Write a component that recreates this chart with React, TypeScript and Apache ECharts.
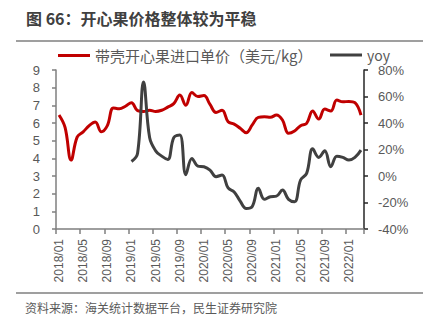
import React, { useEffect, useRef } from 'react';
import * as echarts from 'echarts';

const categories: string[] = [
  '2018/01', '2018/02', '2018/03', '2018/04', '2018/05', '2018/06', '2018/07', '2018/08', '2018/09', '2018/10', '2018/11', '2018/12',
  '2019/01', '2019/02', '2019/03', '2019/04', '2019/05', '2019/06', '2019/07', '2019/08', '2019/09', '2019/10', '2019/11', '2019/12',
  '2020/01', '2020/02', '2020/03', '2020/04', '2020/05', '2020/06', '2020/07', '2020/08', '2020/09', '2020/10', '2020/11', '2020/12',
  '2021/01', '2021/02', '2021/03', '2021/04', '2021/05', '2021/06', '2021/07', '2021/08', '2021/09', '2021/10', '2021/11', '2021/12',
  '2022/01', '2022/02', '2022/03',
];

// 带壳开心果进口单价（美元/kg）
const priceValues: number[] = [
  6.45, 5.75, 3.9, 5.2, 5.5, 5.85, 6.05, 5.5, 5.85, 6.85,
  6.8, 6.95, 7.15, 6.7, 6.65, 6.72, 6.65, 6.72, 6.9, 7.1,
  7.58, 7.0, 7.72, 7.5, 7.55, 7.05, 6.6, 6.72, 6.07, 5.94,
  5.7, 5.45, 5.89, 6.32, 6.35, 6.32, 6.45, 6.17, 5.42, 5.55,
  5.85, 5.98, 6.68, 6.22, 6.79, 6.68, 7.3, 7.2, 7.22, 7.15, 6.45,
];

// yoy (%)
const yoyValues: (number | null)[] = [
  null, null, null, null, null, null, null, null, null, null, null, null,
  11, 17, 71, 29, 19, 15, 12.5, 29, 31, 1,
  13.3, 7.5, 7, 4.5, -0.5, 0.7, -9, -12, -19, -24.5,
  -23, -9.3, -17.6, -15.6, -15.2, -10.6, -17.6, -19.4, -3, 2,
  20.5, 14, 19, 7, 15, 14, 12, 14, 19.5,
];

const leftTicks = { min: 0, max: 9, interval: 1 };
const rightTicks = { min: -40, max: 80, interval: 20 };

const seriesNames = ['带壳开心果进口单价（美元/kg）', 'yoy'];
const titleText = '图 66：开心果价格整体较为平稳';
const sourceText = '资料来源：海关统计数据平台，民生证券研究院';

export default function App() {
  const ref = useRef<HTMLDivElement>(null);
  useEffect(() => {
    if (!ref.current) return;
    const chart = echarts.init(ref.current, null, { renderer: 'svg' });
    const labelColor = '#595959';
    const numFont = '"Liberation Sans", Arial, sans-serif';
    const cjkFont = '"Noto Sans CJK SC", "Noto Sans", sans-serif';
    chart.setOption({
      animation: false,
      backgroundColor: '#ffffff',
      grid: { left: 56, right: 66, top: 70, bottom: 93, containLabel: false },
      legend: [
        {
          left: 58,
          top: 48,
          padding: 0,
          icon: 'rect',
          itemWidth: 32,
          itemHeight: 3,
          data: [seriesNames[0]],
          textStyle: { fontSize: 15, color: labelColor, fontFamily: cjkFont },
        },
        {
          left: 330,
          top: 48,
          padding: 0,
          icon: 'rect',
          itemWidth: 32,
          itemHeight: 3,
          data: [seriesNames[1]],
          textStyle: { fontSize: 14, color: labelColor, fontFamily: cjkFont },
        },
      ],
      xAxis: {
        type: 'category',
        data: categories,
        boundaryGap: true,
        axisLine: { show: true, lineStyle: { color: '#7f7f7f', width: 1.5 } },
        axisTick: { show: true, interval: 3, length: 5, lineStyle: { color: '#7f7f7f', width: 1.5 } },
        axisLabel: {
          interval: 3,
          rotate: 90,
          margin: 10,
          fontSize: 12,
          color: labelColor,
          fontFamily: numFont,
        },
        splitLine: { show: false },
      },
      yAxis: [
        {
          type: 'value',
          min: leftTicks.min,
          max: leftTicks.max,
          interval: leftTicks.interval,
          axisLine: { show: true, lineStyle: { color: '#7f7f7f', width: 1.5 } },
          axisTick: { show: true, length: 4, lineStyle: { color: '#7f7f7f', width: 1.5 } },
          axisLabel: { margin: 16, fontSize: 13, color: labelColor, fontFamily: numFont },
          splitLine: { show: false },
        },
        {
          type: 'value',
          position: 'right',
          min: rightTicks.min,
          max: rightTicks.max,
          interval: rightTicks.interval,
          axisLine: { show: true, lineStyle: { color: '#262626', width: 1.5 } },
          axisTick: { show: true, length: 4, lineStyle: { color: '#262626', width: 1.5 } },
          axisLabel: { margin: 14, fontSize: 13, color: labelColor, fontFamily: numFont, formatter: '{value}%' },
          splitLine: { show: false },
        },
      ],
      series: [
        {
          name: seriesNames[0],
          type: 'line',
          yAxisIndex: 0,
          data: priceValues,
          smooth: 0.4,
          symbol: 'none',
          lineStyle: { color: '#C00000', width: 3 },
          itemStyle: { color: '#C00000' },
        },
        {
          name: seriesNames[1],
          type: 'line',
          yAxisIndex: 1,
          data: yoyValues,
          smooth: 0.4,
          symbol: 'none',
          connectNulls: false,
          lineStyle: { color: '#404040', width: 3 },
          itemStyle: { color: '#404040' },
        },
      ],
      graphic: [
        {
          type: 'text',
          x: 26,
          y: 18,
          style: {
            text: titleText,
            fill: '#404040',
            fontSize: 16,
            fontWeight: 'bold',
            fontFamily: cjkFont,
            verticalAlign: 'middle',
          },
        },
        {
          type: 'line',
          shape: { x1: 16, y1: 41, x2: 423, y2: 41 },
          style: { stroke: '#7f7f7f', lineWidth: 1.5 },
        },
        {
          type: 'line',
          shape: { x1: 16, y1: 293, x2: 423, y2: 293 },
          style: { stroke: '#7f7f7f', lineWidth: 1.5 },
        },
        {
          type: 'text',
          x: 25,
          y: 307,
          style: {
            text: sourceText,
            fill: labelColor,
            fontSize: 12,
            fontFamily: cjkFont,
            verticalAlign: 'middle',
          },
        },
      ],
    });
    return () => chart.dispose();
  }, []);
  return (
    <div
      ref={ref}
      style={{ position: 'fixed', left: 0, top: 0, width: 430, height: 322, background: '#fff' }}
    />
  );
}
